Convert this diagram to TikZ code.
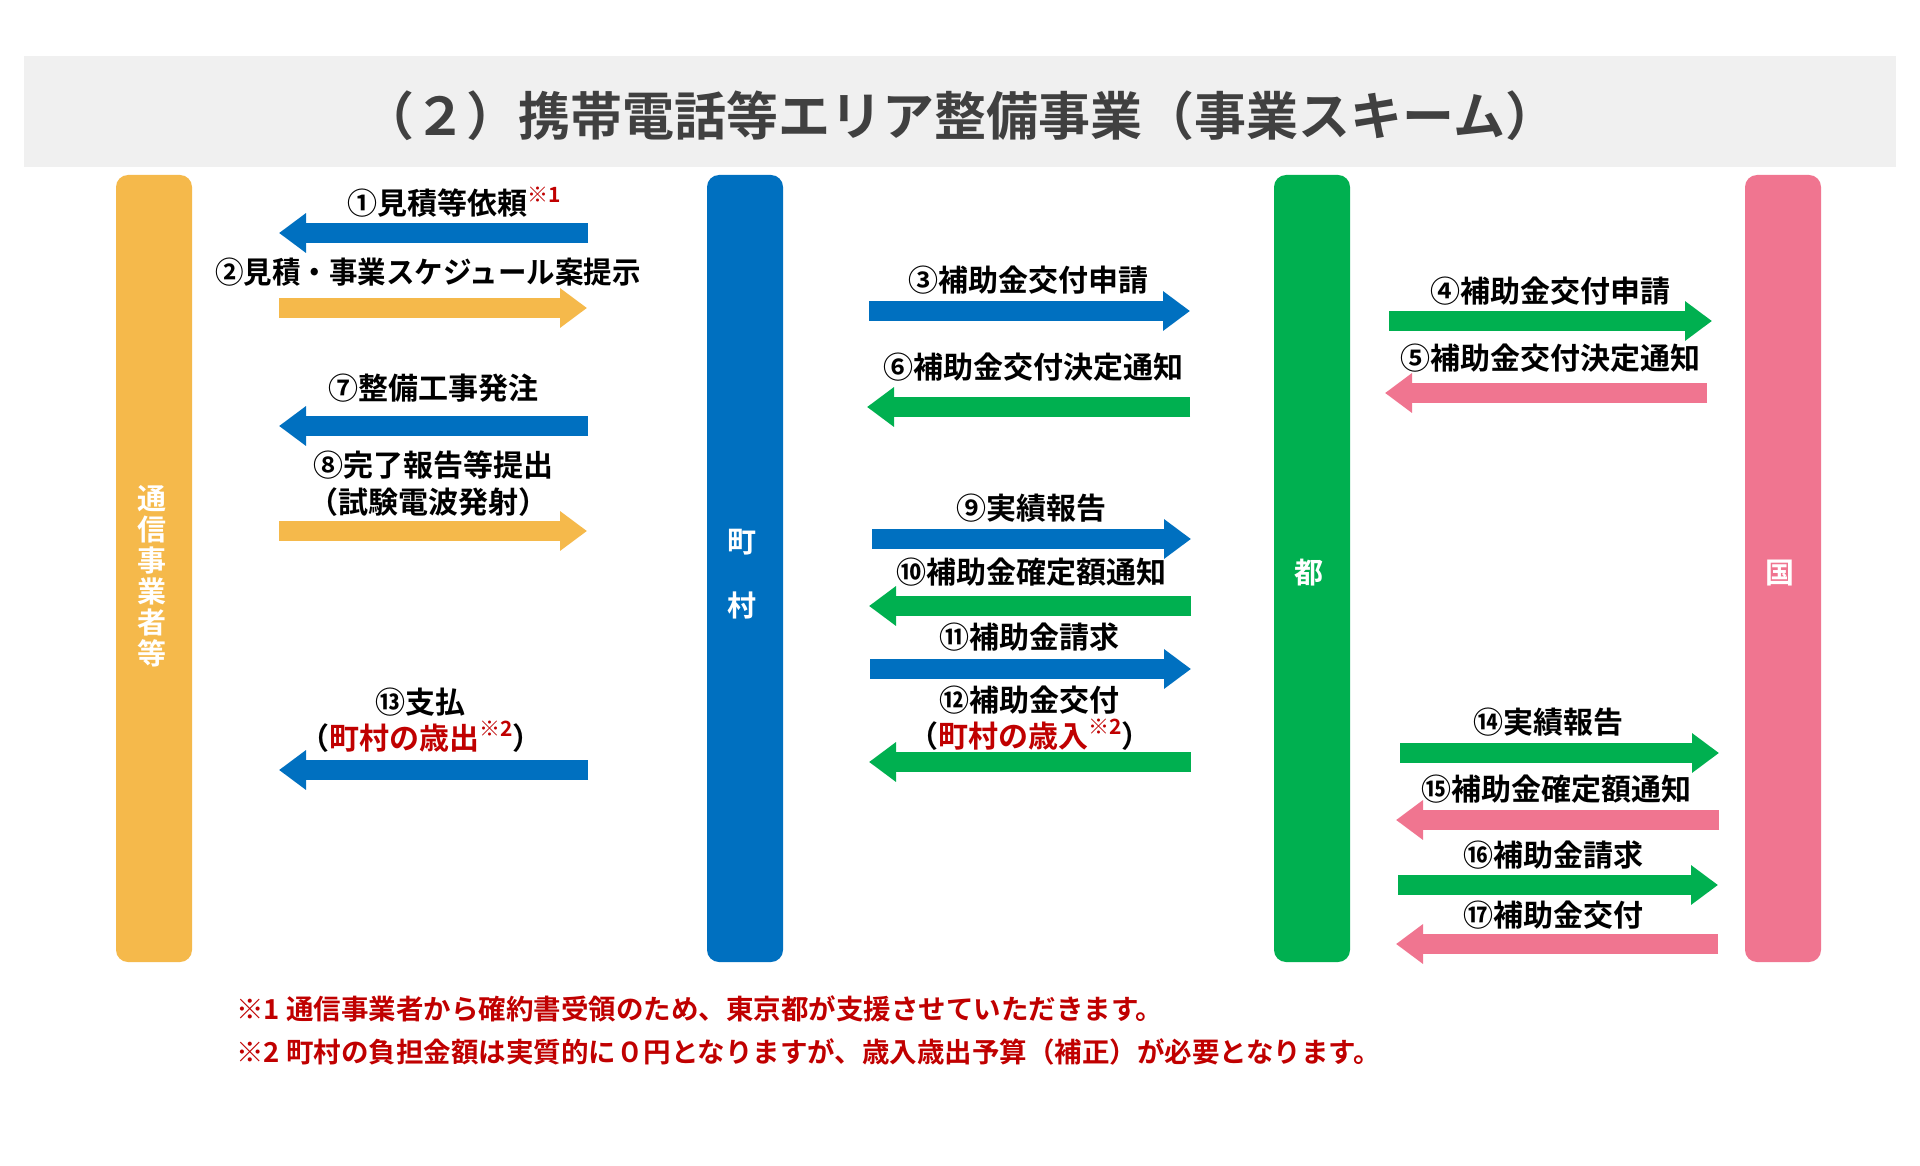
\documentclass[tikz,border=0pt]{standalone}
\usepackage{fontspec}
\setmainfont{Noto Sans CJK JP Bold}
\usetikzlibrary{arrows.meta}
\definecolor{cyel}{HTML}{F5B94B}
\definecolor{cblu}{HTML}{0070C0}
\definecolor{cgrn}{HTML}{00B050}
\definecolor{cpnk}{HTML}{F07590}
\definecolor{cred}{HTML}{C00000}
\definecolor{cbar}{HTML}{F0F0F0}
\definecolor{ctit}{HTML}{404040}
\newcommand{\supnote}[1]{\raisebox{0.42em}{\fontsize{21}{21}\selectfont\color{cred}#1}}
\tikzset{
  col/.style={rounded corners=12pt, minimum width=76pt, minimum height=787pt, inner sep=0pt, draw=none},
  collab/.style={text=white, align=center, inner sep=0pt, font=\fontsize{29}{31}\selectfont},
  arr/.style={line width=20pt, -{Triangle[length=27pt,width=38pt]}},
  lab/.style={inner sep=0pt, text=black, font=\fontsize{30}{35}\selectfont},
  foot/.style={inner sep=0pt, anchor=west, text=cred, font=\fontsize{27.5}{30}\selectfont}
}
\begin{document}
\begin{tikzpicture}[x=1pt,y=-1pt]
\useasboundingbox (0,0) rectangle (1920,1166);
\fill[white] (0,0) rectangle (1920,1166);
% title bar
\fill[cbar] (24,56) rectangle (1896,167);
\node[inner sep=0pt, text=ctit, font=\fontsize{52}{56}\selectfont] (title) at (960,116) {（２）携帯電話等エリア整備事業（事業スキーム）};
% columns
\node[col, fill=cyel] (yel) at (154,568.5) {};
\node[col, fill=cblu] (blu) at (745,568.5) {};
\node[col, fill=cgrn] (grn) at (1312,568.5) {};
\node[col, fill=cpnk] (pnk) at (1783,568.5) {};
\node[collab] (yellab) at (152,576) {通\\信\\事\\業\\者\\等};
\node[collab, font=\fontsize{29}{64}\selectfont] (blulab) at (742,574) {町\\村};
\node[collab] (grnlab) at (1309,573) {都};
\node[collab] (pnklab) at (1780,573) {国};
% arrow end points
\coordinate (a1s) at (588,233);  \coordinate (a1e) at (279,233);
\coordinate (a2s) at (279,308);  \coordinate (a2e) at (587,308);
\coordinate (a7s) at (588,426);  \coordinate (a7e) at (279,426);
\coordinate (a8s) at (279,531);  \coordinate (a8e) at (587,531);
\coordinate (a13s) at (588,770); \coordinate (a13e) at (279,770);
\coordinate (a3s) at (869,311);  \coordinate (a3e) at (1190,311);
\coordinate (a6s) at (1190,407); \coordinate (a6e) at (867,407);
\coordinate (a9s) at (872,539);  \coordinate (a9e) at (1191,539);
\coordinate (a10s) at (1191,606); \coordinate (a10e) at (869,606);
\coordinate (a11s) at (870,669); \coordinate (a11e) at (1191,669);
\coordinate (a12s) at (1191,762); \coordinate (a12e) at (869,762);
\coordinate (a4s) at (1389,321); \coordinate (a4e) at (1712,321);
\coordinate (a5s) at (1707,393); \coordinate (a5e) at (1385,393);
\coordinate (a14s) at (1400,753); \coordinate (a14e) at (1719,753);
\coordinate (a15s) at (1719,820); \coordinate (a15e) at (1396,820);
\coordinate (a16s) at (1398,885); \coordinate (a16e) at (1718,885);
\coordinate (a17s) at (1718,944); \coordinate (a17e) at (1396,944);
% arrows
\draw[arr, cblu] (a1s) -- (a1e);
\draw[arr, cyel] (a2s) -- (a2e);
\draw[arr, cblu] (a7s) -- (a7e);
\draw[arr, cyel] (a8s) -- (a8e);
\draw[arr, cblu] (a13s) -- (a13e);
\draw[arr, cblu] (a3s) -- (a3e);
\draw[arr, cgrn] (a6s) -- (a6e);
\draw[arr, cblu] (a9s) -- (a9e);
\draw[arr, cgrn] (a10s) -- (a10e);
\draw[arr, cblu] (a11s) -- (a11e);
\draw[arr, cgrn] (a12s) -- (a12e);
\draw[arr, cgrn] (a4s) -- (a4e);
\draw[arr, cpnk] (a5s) -- (a5e);
\draw[arr, cgrn] (a14s) -- (a14e);
\draw[arr, cpnk] (a15s) -- (a15e);
\draw[arr, cgrn] (a16s) -- (a16e);
\draw[arr, cpnk] (a17s) -- (a17e);
% labels
\node[lab] (l1) at (437,202) {①見積等依頼\rlap{\supnote{※1}}};
\node[lab, xscale=0.95, transform shape] (l2) at (428,272) {②見積・事業スケジュール案提示};
\node[lab] (l7) at (433,388) {⑦整備工事発注};
\node[lab] (l8a) at (433,465) {⑧完了報告等提出};
\node[lab] (l8b) at (428,502) {（試験電波発射）};
\node[lab] (l13a) at (420,702) {⑬支払};
\node[lab] (l13b) at (421,737) {（{\color{cred}町村の歳出}\supnote{※2}）};
\node[lab] (l3) at (1028,280) {③補助金交付申請};
\node[lab] (l6) at (1033,367) {⑥補助金交付決定通知};
\node[lab] (l9) at (1031,508) {⑨実績報告};
\node[lab] (l10) at (1031,572) {⑩補助金確定額通知};
\node[lab] (l11) at (1029,637) {⑪補助金請求};
\node[lab] (l12a) at (1029,700) {⑫補助金交付};
\node[lab] (l12b) at (1030,735) {（{\color{cred}町村の歳入}\supnote{※2}）};
\node[lab] (l4) at (1550,291) {④補助金交付申請};
\node[lab] (l5) at (1550,358) {⑤補助金交付決定通知};
\node[lab] (l14) at (1548,722) {⑭実績報告};
\node[lab] (l15) at (1556,789) {⑮補助金確定額通知};
\node[lab] (l16) at (1553,855) {⑯補助金請求};
\node[lab] (l17) at (1553,915) {⑰補助金交付};
% footnotes
\node[foot] (f1) at (236,1009) {※1 通信事業者から確約書受領のため、東京都が支援させていただきます。};
\node[foot] (f2) at (236,1052) {※2 町村の負担金額は実質的に０円となりますが、歳入歳出予算（補正）が必要となります。};
\end{tikzpicture}
\end{document}
